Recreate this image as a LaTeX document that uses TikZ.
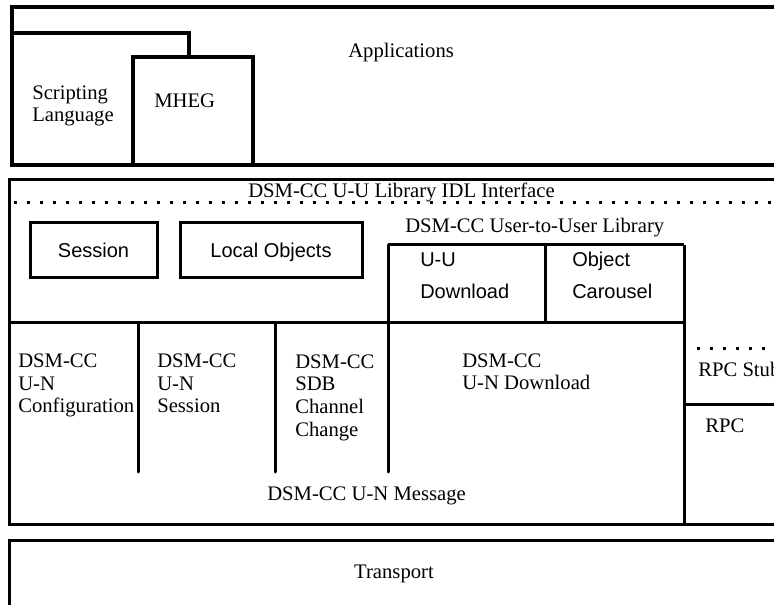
\documentclass[tikz,border=0pt]{standalone}
\usepackage{fontspec}
\setmainfont{Liberation Serif}
\setsansfont{Liberation Sans}
\usepackage{tikz}

\begin{document}
\begin{tikzpicture}[x=0.75pt,y=0.75pt,yscale=-1,xscale=1,
  rimline/.style={line width=2.25pt},
  dotline/.style={line width=2.25pt,dash pattern=on 2.25pt off 7.5pt},
  serifnode/.style={inner sep=0pt,anchor=base west,align=left,font=\fontsize{15.5}{17}\selectfont},
  sansnode/.style={inner sep=0pt,anchor=base west,align=left,font=\sffamily\fontsize{15}{24}\selectfont}]
\useasboundingbox (0,0) rectangle (774,605);

%Shape: Applications layer
\draw [line width=3pt]  (774,7) -- (12,7) -- (12,165) -- (774,165) ;
%Straight Lines
\draw [line width=3pt]  (12,33) -- (189,33) -- (189,57) ;
%Shape: Rectangle
\draw [line width=3pt]  (133,57) rectangle (253,165) ;

%Shape: DSM-CC layer
\draw [rimline]  (774,180) -- (9,180) -- (9,524) -- (774,524) ;
%Straight Lines
\draw [dotline]  (14,203) -- (774,203) ;
%Shape: Rectangle
\draw [rimline]  (30,223) rectangle (157,278) ;
%Shape: Rectangle
\draw [rimline]  (180,223) rectangle (362,278) ;
%Straight Lines
\draw [rimline]  (388,245) -- (684,245) ;
%Straight Lines
\draw [rimline]  (545,245) -- (545,323) ;
%Straight Lines
\draw [rimline]  (9,323) -- (684,323) ;
%Straight Lines
\draw [rimline]  (684,245) -- (684,524) ;
%Straight Lines
\draw [rimline,line cap=round]  (388,245) -- (388,472) ;
%Straight Lines
\draw [rimline,line cap=round]  (138,323) -- (138,472) ;
%Straight Lines
\draw [rimline,line cap=round]  (275,323) -- (275,472) ;
%Straight Lines
\draw [dotline]  (697,349) -- (774,349) ;
%Straight Lines
\draw [rimline]  (684,405) -- (774,405) ;

%Shape: Transport layer
\draw [rimline]  (774,540) -- (9,540) -- (9,605) ;


% Text Node
\draw (348,58) node [serifnode] (apps) {Applications};
% Text Node
\draw (32,122) node [serifnode] (script) {Scripting\\Language};
% Text Node
\draw (154,108) node [serifnode] (mheg) {MHEG};
% Text Node
\draw (248,198) node [serifnode] (idl) {DSM-CC U-U Library IDL Interface};
% Text Node
\draw (405,233) node [serifnode] (uulib) {DSM-CC User-to-User Library};
% Text Node
\draw (93.5,258) node [sansnode,anchor=base] (sess) {Session};
% Text Node
\draw (271,258) node [sansnode,anchor=base] (locobj) {Local Objects};
% Text Node
\draw (420,299) node [sansnode] (uudl) {U-U\\Download};
% Text Node
\draw (572,299) node [sansnode] (objcar) {Object\\Carousel};
% Text Node
\draw (18,413) node [serifnode] (unconf) {DSM-CC\\U-N\\Configuration};
% Text Node
\draw (157,413) node [serifnode] (unsess) {DSM-CC\\U-N\\Session};
% Text Node
\draw (295,436) node [serifnode] (sdb) {DSM-CC\\SDB\\Channel\\Change};
% Text Node
\draw (462,390) node [serifnode] (undl) {DSM-CC\\U-N Download};
% Text Node
\draw (267,500) node [serifnode] (unmsg) {DSM-CC U-N Message};
% Text Node
\draw (698,377) node [serifnode] (stub) {RPC Stub};
% Text Node
\draw (705,433) node [serifnode] (rpc) {RPC};
% Text Node
\draw (394,578) node [serifnode,anchor=base] (trans) {Transport};


\end{tikzpicture}
\end{document}
